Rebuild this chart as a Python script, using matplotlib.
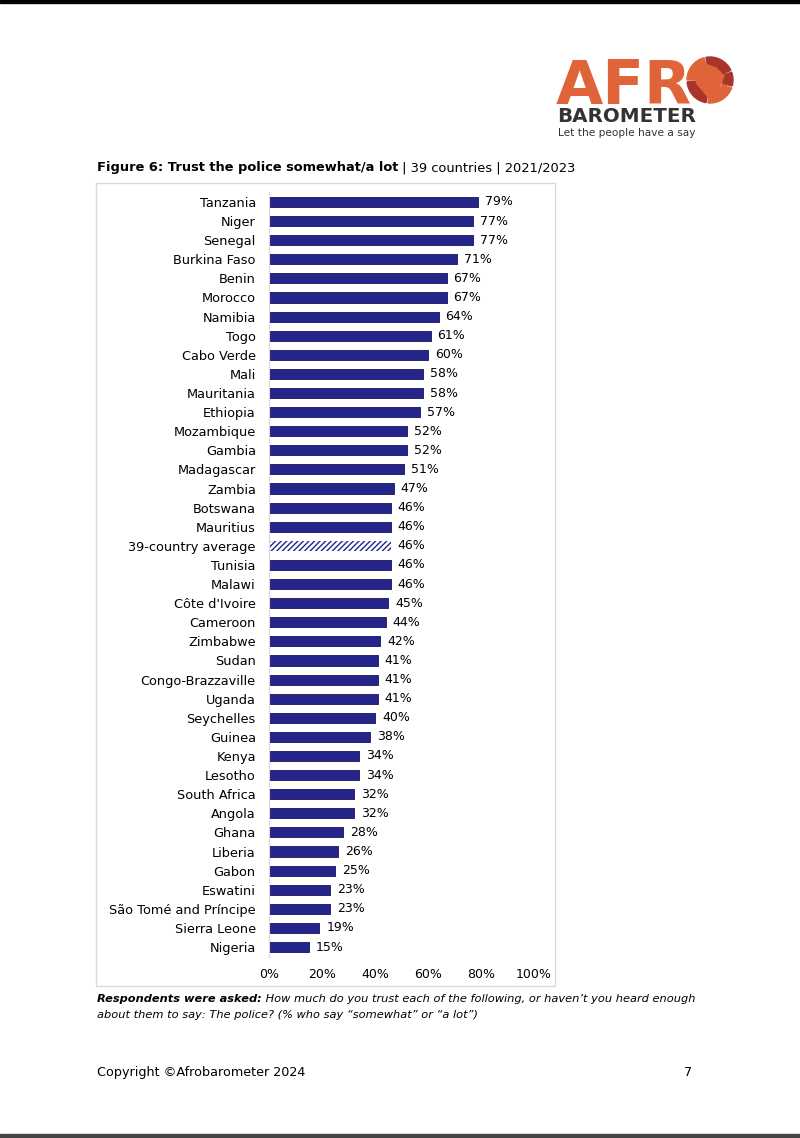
import matplotlib
matplotlib.use("Agg")
import matplotlib.pyplot as plt
from matplotlib.patches import Rectangle, Wedge, Polygon

# Data
countries = [
    "Tanzania", "Niger", "Senegal", "Burkina Faso", "Benin", "Morocco",
    "Namibia", "Togo", "Cabo Verde", "Mali", "Mauritania", "Ethiopia",
    "Mozambique", "Gambia", "Madagascar", "Zambia", "Botswana", "Mauritius",
    "39-country average", "Tunisia", "Malawi", "Côte d'Ivoire", "Cameroon",
    "Zimbabwe", "Sudan", "Congo-Brazzaville", "Uganda", "Seychelles",
    "Guinea", "Kenya", "Lesotho", "South Africa", "Angola", "Ghana",
    "Liberia", "Gabon", "Eswatini", "São Tomé and Príncipe", "Sierra Leone",
    "Nigeria",
]
values = [
    79, 77, 77, 71, 67, 67, 64, 61, 60, 58, 58, 57, 52, 52, 51, 47, 46, 46,
    46, 46, 46, 45, 44, 42, 41, 41, 41, 40, 38, 34, 34, 32, 32, 28, 26, 25,
    23, 23, 19, 15,
]
xticks = [0, 20, 40, 60, 80, 100]
average_label = "39-country average"

NAVY = "#25248a"
ORANGE = "#e0643a"
DARKRED = "#a8352a"
GREY = "#333333"

W, H = 800, 1138
plt.rcParams["font.family"] = ["DejaVu Sans"]
plt.rcParams["hatch.linewidth"] = 1.0

fig = plt.figure(figsize=(W / 100, H / 100), dpi=100)

# overlay in pixel coordinates for page furniture
page = fig.add_axes([0, 0, 1, 1])
page.set_xlim(0, W)
page.set_ylim(H, 0)
page.axis("off")

# black edges of the scanned page
page.add_patch(Rectangle((0, 0), W, 3, color="black"))
page.add_patch(Rectangle((0, 1134), W, 4, color="#444444"))

# logo
page.text(556, 104, "AFR", fontsize=44, fontweight="bold", color=ORANGE,
          ha="left", va="baseline")
cx, cy = 710, 80
for t1, t2, col in [(20, 95, ORANGE), (100, 175, DARKRED), (180, 255, ORANGE),
                    (260, 335, DARKRED), (340, 15, DARKRED)]:
    page.add_patch(Wedge((cx, cy), 23, t1, t2, width=10, color=col))
page.add_patch(Polygon([(694, 72), (705, 64), (716, 68), (724, 76), (719, 88),
                        (711, 101), (704, 92), (697, 84)], color=ORANGE))
page.text(557, 122, "BAROMETER", fontsize=14.3, fontweight="bold", color=GREY,
          ha="left", va="baseline")
page.text(558, 136, "Let the people have a say", fontsize=7.6, color=GREY,
          ha="left", va="baseline")

# title
t = page.text(97, 171, "Figure 6: Trust the police somewhat/a lot",
              fontsize=9.4, fontweight="bold", color="black", va="baseline")
page.annotate(" | 39 countries | 2021/2023", xycoords=t, xy=(1, 0),
              fontsize=9.4, color="black", va="bottom")

# chart frame
page.add_patch(Rectangle((96, 183), 459, 803, fill=False,
                         edgecolor="#d9d9d9", linewidth=1))

# footnote
n = page.text(97, 1002, "Respondents were asked:", fontsize=8.2,
              fontweight="bold", fontstyle="italic", color="black",
              va="baseline")
page.annotate(" How much do you trust each of the following, or haven’t you heard enough",
              xycoords=n, xy=(1, 0), fontsize=8.2, fontstyle="italic",
              color="black", va="bottom")
page.text(97, 1018, "about them to say: The police? (% who say “somewhat” or “a lot”)",
          fontsize=8.2, fontstyle="italic", color="black", va="baseline")

page.text(97, 1076, "Copyright ©Afrobarometer 2024", fontsize=9.2, color="black",
          va="baseline")
page.text(692, 1076, "7", fontsize=9.2, color="black", va="baseline", ha="right")

# bar chart
x0, x1 = 269, 534
y_top, y_bot = 192.4, 956.6
ax = fig.add_axes([x0 / W, 1 - y_bot / H, (x1 - x0) / W, (y_bot - y_top) / H])
ax.patch.set_alpha(0)
ypos = list(range(len(countries)))
for y, c, v in zip(ypos, countries, values):
    if c == average_label:
        ax.barh(y, v, height=0.53, color="white", edgecolor=NAVY, hatch="//////",
                linewidth=0)
    else:
        ax.barh(y, v, height=0.53, color=NAVY, edgecolor="#15145a", linewidth=0.6)
    ax.text(v + 2.6, y, f"{v}%", va="center", ha="left", fontsize=9, color="black")

ax.set_xlim(0, 100)
ax.set_ylim(len(countries) - 0.5, -0.5)
ax.set_yticks(ypos)
ax.set_yticklabels(countries, fontsize=9.3)
ax.set_xticks(xticks)
ax.set_xticklabels([f"{v}%" for v in xticks], fontsize=9)
ax.tick_params(length=0)
ax.tick_params(axis="y", pad=9.5)
ax.tick_params(axis="x", pad=8)
for s in ["top", "right", "bottom"]:
    ax.spines[s].set_visible(False)
ax.spines["left"].set_color("#d9d9d9")
ax.spines["left"].set_linewidth(0.8)

fig.savefig("out.png", dpi=100)
